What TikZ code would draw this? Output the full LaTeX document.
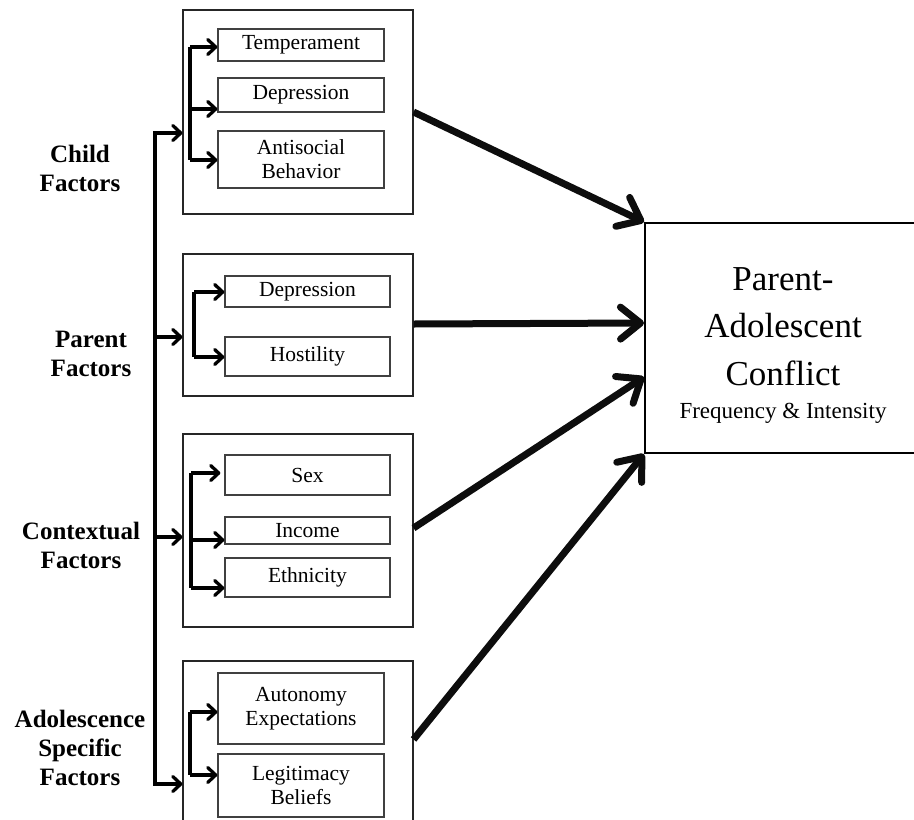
\documentclass[tikz,border=0pt]{standalone}
\usepackage{fontspec}
\setmainfont{Liberation Serif}
\usetikzlibrary{arrows.meta,calc}
\begin{document}
\begin{tikzpicture}[x=1pt,y=-1pt,
  outer/.style={draw=black!85, line width=1.1pt, rectangle, minimum width=230pt, inner sep=0pt},
  sub/.style={draw=black!75, line width=1.3pt, rectangle, align=center, inner sep=0pt, font=\fontsize{21.5}{24}\selectfont},
  lab/.style={align=center, inner sep=0pt, font=\bfseries\fontsize{25}{29}\selectfont},
  sline/.style={line width=3.3pt},
  sarr/.style={line width=3.3pt, -{Straight Barb[length=8pt,width=15pt,round]}},
  barr/.style={line width=7pt, draw=black!95, -{Straight Barb[length=20pt,width=32pt,round]}}
]
\useasboundingbox (0,0) rectangle (914,820);
\clip (0,0) rectangle (914,820);

% labels
\node[lab] (lchild) at (80,168) {Child\\Factors};
\node[lab] (lparent) at (91,354) {Parent\\Factors};
\node[lab] (lcontext) at (81,545) {Contextual\\Factors};
\node[lab] (ladol) at (80,748) {Adolescence\\Specific\\Factors};

% child factors
\node[outer, minimum height=204pt] (child) at (298,112) {};
\node[sub, minimum width=166pt, minimum height=32pt] (temp) at (301,45) {Temperament};
\node[sub, minimum width=166pt, minimum height=34pt] (cdep) at (301,95) {Depression};
\node[sub, minimum width=166pt, minimum height=57pt] (anti) at (301,159.5) {Antisocial\\Behavior};

% parent factors
\node[outer, minimum height=142pt] (parent) at (298,325) {};
\node[sub, minimum width=165pt, minimum height=31pt] (pdep) at (307.5,291.5) {Depression};
\node[sub, minimum width=165pt, minimum height=39pt] (host) at (307.5,356.5) {Hostility};

% contextual factors
\node[outer, minimum height=193pt] (context) at (298,530.5) {};
\node[sub, minimum width=165pt, minimum height=40pt] (sex) at (307.5,475) {Sex};
\node[sub, minimum width=165pt, minimum height=27pt] (income) at (307.5,530.5) {Income};
\node[sub, minimum width=165pt, minimum height=39pt] (eth) at (307.5,577.5) {Ethnicity};

% adolescence specific factors
\node[outer, minimum height=200pt] (adol) at (298,761) {};
\node[sub, minimum width=166pt, minimum height=71pt] (auto) at (301,708.5) {Autonomy\\Expectations};
\node[sub, minimum width=166pt, minimum height=63pt] (legit) at (301,785.5) {Legitimacy\\Beliefs};

% outcome
\node[draw=black, line width=2pt, rectangle, minimum width=276pt, minimum height=230pt] (pac) at (783,338) {};
\node[align=center, inner sep=0pt, font=\fontsize{35}{47.5}\selectfont, anchor=base] (pactitle) at (783,385)
  {Parent-\\Adolescent\\Conflict};
\node[inner sep=0pt, font=\fontsize{23}{28}\selectfont, anchor=base] (pacsub) at (783,418) {Frequency \& Intensity};

% spine
\coordinate (sTop) at (155,133);
\coordinate (sP) at (155,337);
\coordinate (sC) at (155,537);
\coordinate (sBot) at (155,784);
\draw[sarr] (sBot) -- (sTop) -- (sTop -| child.west);
\draw[sarr] (sTop) -- (sBot) -- (sBot -| adol.west);
\draw[sarr] (sP) -- (sP -| parent.west);
\draw[sarr] (sC) -- (sC -| context.west);

% child bracket
\coordinate (cbT) at (190,47);
\coordinate (cbM) at (190,109);
\coordinate (cbB) at (190,160);
\draw[sline] (cbT) -- (cbB);
\draw[sarr] (cbT) -- (cbT -| temp.west);
\draw[sarr] (cbM) -- (cbM -| cdep.west);
\draw[sarr] (cbB) -- (cbB -| anti.west);

% parent bracket
\coordinate (pbT) at (194,292);
\coordinate (pbB) at (194,357);
\draw[sline] (pbT) -- (pbB);
\draw[sarr] (pbT) -- (pbT -| pdep.west);
\draw[sarr] (pbB) -- (pbB -| host.west);

% contextual bracket
\coordinate (xbT) at (191,473);
\coordinate (xbM) at (191,540);
\coordinate (xbB) at (191,588);
\draw[sline] (xbT) -- (xbB);
\draw[sarr] (xbT) -- ([xshift=-4pt]xbT -| sex.west);
\draw[sarr] (xbM) -- (xbM -| income.west);
\draw[sarr] (xbB) -- (xbB -| eth.west);

% adolescence bracket
\coordinate (abT) at (190,712);
\coordinate (abB) at (190,775);
\draw[sline] (abT) -- (abB);
\draw[sarr] (abT) -- (abT -| auto.west);
\draw[sarr] (abB) -- (abB -| legit.west);

% main arrows
\draw[barr] (child.east) -- (pac.north west);
\draw[barr] ([yshift=1pt]parent.east) -- ([yshift=-101pt]pac.north west);
\draw[barr] ([yshift=2.5pt]context.east) -- ([yshift=-155pt]pac.north west);
\draw[barr] ([yshift=-79pt]adol.north east) -- (pac.south west);
\end{tikzpicture}
\end{document}
